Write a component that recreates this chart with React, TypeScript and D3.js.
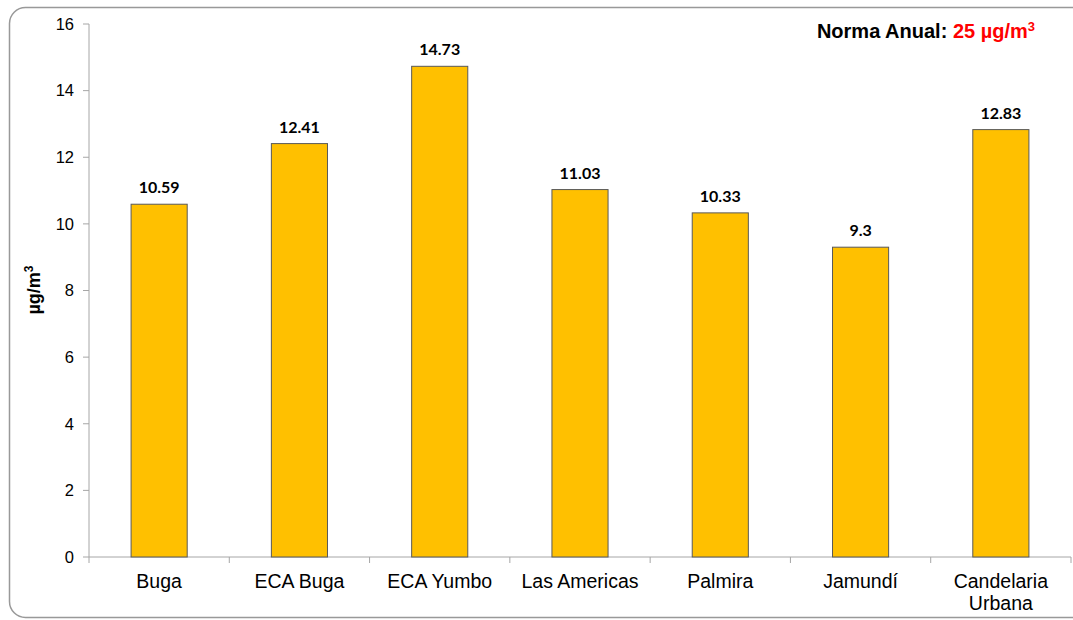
import React from "react";
import * as d3 from "d3";

const categories: string[][] = [
  ["Buga"],
  ["ECA Buga"],
  ["ECA Yumbo"],
  ["Las Americas"],
  ["Palmira"],
  ["Jamundí"],
  ["Candelaria", "Urbana"],
];
const values: number[] = [10.59, 12.41, 14.73, 11.03, 10.33, 9.3, 12.83];
const valueLabels: string[] = ["10.59", "12.41", "14.73", "11.03", "10.33", "9.3", "12.83"];
const yTicks: number[] = [0, 2, 4, 6, 8, 10, 12, 14, 16];

const W = 1073;
const H = 620;
const plotLeft = 89;
const plotRight = 1071;
const plotTop = 24;
const plotBottom = 557;

export default function App() {
  const x = d3
    .scaleBand<number>()
    .domain(d3.range(categories.length))
    .range([plotLeft, plotRight])
    .paddingInner(0.6)
    .paddingOuter(0.3);
  const band = d3
    .scaleBand<number>()
    .domain(d3.range(categories.length))
    .range([plotLeft, plotRight]);
  const y = d3.scaleLinear().domain([0, 16]).range([plotBottom, plotTop]);
  const axisColor = "#a6a6a6";
  const sans = "Arial, 'Liberation Sans', sans-serif";

  return (
    <svg
      width={W}
      height={H}
      style={{ position: "absolute", left: 0, top: 0, background: "#fff" }}
    >
      <rect x={9.5} y={7.5} width={1100} height={610} rx={16} ry={16} fill="#fff" stroke="#999" strokeWidth={1.5} />
      {/* y axis */}
      <line x1={plotLeft} x2={plotLeft} y1={plotTop} y2={plotBottom} stroke={axisColor} />
      {yTicks.map((t) => (
        <g key={t}>
          <line x1={plotLeft - 6} x2={plotLeft} y1={y(t)} y2={y(t)} stroke={axisColor} />
          <text x={plotLeft - 15} y={y(t)} dy="0.35em" textAnchor="end" fontFamily={sans} fontSize={16.5} fill="#000">
            {t}
          </text>
        </g>
      ))}
      {/* x axis */}
      <line x1={plotLeft} x2={plotRight} y1={plotBottom} y2={plotBottom} stroke={axisColor} />
      {d3.range(categories.length + 1).map((i) => {
        const xx = plotLeft + i * band.step();
        return <line key={i} x1={xx} x2={xx} y1={plotBottom} y2={plotBottom + 6} stroke={axisColor} />;
      })}
      {/* bars */}
      {values.map((v, i) => (
        <g key={i}>
          <rect
            x={x(i)!}
            y={y(v)}
            width={x.bandwidth()}
            height={y(0) - y(v)}
            fill="#FFC000"
            stroke="#595959"
            strokeWidth={1}
          />
          <text
            x={x(i)! + x.bandwidth() / 2}
            y={y(v) - 11}
            textAnchor="middle"
            fontFamily="Lato, 'Open Sans', sans-serif"
            fontWeight="bold"
            fontSize={16}
            fill="#000"
          >
            {valueLabels[i]}
          </text>
        </g>
      ))}
      {/* category labels */}
      {categories.map((lines, i) => (
        <text
          key={i}
          x={band(i)! + band.bandwidth() / 2}
          y={588}
          textAnchor="middle"
          fontFamily={sans}
          fontSize={19.5}
          fill="#000"
        >
          {lines.map((l, j) => (
            <tspan key={j} x={band(i)! + band.bandwidth() / 2} dy={j === 0 ? 0 : 22}>
              {l}
            </tspan>
          ))}
        </text>
      ))}
      {/* y title */}
      <text
        transform={`translate(40, 290) rotate(-90)`}
        textAnchor="middle"
        fontFamily={sans}
        fontWeight="bold"
        fontSize={18}
        fill="#000"
      >
        µg/m<tspan dy={-7} fontSize={12}>3</tspan>
      </text>
      {/* norma */}
      <text x={1035} y={38} textAnchor="end" fontFamily={sans} fontWeight="bold" fontSize={20} fill="#000">
        Norma Anual:{" "}
        <tspan fill="#ff0000">25 µg/m</tspan>
        <tspan fill="#ff0000" dy={-7} fontSize={13}>3</tspan>
      </text>
    </svg>
  );
}
